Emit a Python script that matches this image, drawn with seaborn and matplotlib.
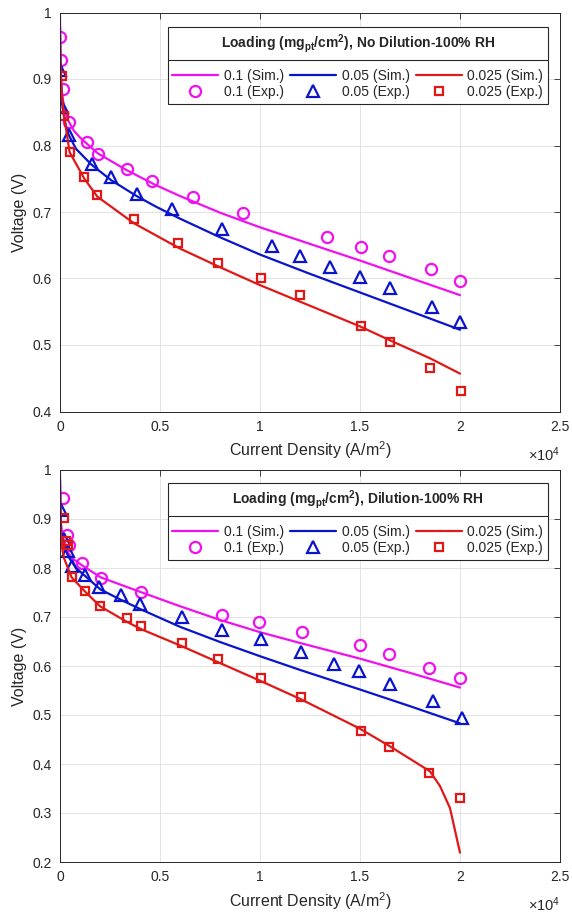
import matplotlib
matplotlib.use("Agg")
import matplotlib.pyplot as plt
from matplotlib.lines import Line2D
from matplotlib.ticker import FuncFormatter, MultipleLocator
import seaborn as sns
import pandas as pd

# ---- data (current density A/m^2, voltage V) ----
# top panel: no dilution
top_sim_01_x = [0, 20, 50, 100, 200, 400, 700, 1000, 1330, 1900, 3330, 4750, 6000, 8000, 10000, 12500, 15000, 17500, 20000]
top_sim_01_v = [0.995, 0.94, 0.905, 0.88, 0.857, 0.838, 0.822, 0.812, 0.803, 0.788, 0.763, 0.741, 0.724, 0.699, 0.677, 0.652, 0.627, 0.601, 0.575]
top_sim_005_x = [0, 10, 30, 80, 150, 300, 450, 800, 1580, 2550, 3830, 4800, 6000, 8000, 10000, 12500, 15000, 17500, 20000]
top_sim_005_v = [0.977, 0.94, 0.905, 0.87, 0.852, 0.828, 0.815, 0.795, 0.771, 0.748, 0.724, 0.708, 0.690, 0.662, 0.636, 0.607, 0.579, 0.551, 0.523]
top_sim_0025_x = [0, 20, 80, 200, 480, 1220, 1870, 3700, 6000, 8000, 10000, 12500, 15000, 16500, 18500, 20000]
top_sim_0025_v = [0.965, 0.92, 0.88, 0.845, 0.79, 0.75, 0.723, 0.683, 0.645, 0.617, 0.59, 0.559, 0.528, 0.507, 0.480, 0.457]

top_exp_01_x = [20, 50, 170, 450, 1330, 1880, 3330, 4620, 6630, 9170, 13330, 15030, 16470, 18550, 20020]
top_exp_01_v = [0.963, 0.928, 0.885, 0.835, 0.806, 0.787, 0.765, 0.747, 0.723, 0.698, 0.663, 0.647, 0.634, 0.614, 0.596]
top_exp_005_x = [20, 120, 450, 1580, 2550, 3830, 5580, 8080, 10580, 12000, 13500, 15000, 16500, 18580, 20020]
top_exp_005_v = [0.914, 0.858, 0.816, 0.772, 0.752, 0.727, 0.704, 0.675, 0.649, 0.634, 0.618, 0.602, 0.586, 0.557, 0.534]
top_exp_0025_x = [80, 200, 480, 1220, 1870, 3700, 5920, 7920, 10030, 12000, 15030, 16520, 18500, 20070]
top_exp_0025_v = [0.904, 0.844, 0.790, 0.752, 0.725, 0.689, 0.654, 0.624, 0.601, 0.575, 0.528, 0.505, 0.465, 0.431]

# bottom panel: dilution
bot_sim_01_x = [0, 20, 50, 130, 330, 600, 1120, 2030, 4030, 6000, 8000, 10000, 12000, 15000, 17500, 20000]
bot_sim_01_v = [0.995, 0.93, 0.89, 0.86, 0.835, 0.82, 0.805, 0.781, 0.751, 0.722, 0.694, 0.669, 0.647, 0.615, 0.586, 0.556]
bot_sim_005_x = [0, 20, 60, 200, 420, 800, 1330, 2030, 3050, 4020, 6000, 8000, 10000, 12000, 15000, 17500, 20000]
bot_sim_005_v = [0.98, 0.91, 0.87, 0.845, 0.823, 0.80, 0.781, 0.756, 0.735, 0.716, 0.680, 0.649, 0.620, 0.592, 0.552, 0.518, 0.483]
bot_sim_0025_x = [0, 20, 60, 200, 580, 1250, 2000, 3350, 4070, 6000, 8000, 10000, 12000, 15000, 16500, 18500, 19000, 19500, 20000]
bot_sim_0025_v = [0.96, 0.89, 0.85, 0.82, 0.781, 0.752, 0.722, 0.69, 0.675, 0.642, 0.606, 0.570, 0.533, 0.472, 0.436, 0.385, 0.355, 0.31, 0.219]

bot_exp_01_x = [130, 330, 470, 1120, 2030, 4030, 8080, 9950, 12080, 15000, 16450, 18450, 20000]
bot_exp_01_v = [0.943, 0.868, 0.846, 0.811, 0.780, 0.751, 0.705, 0.690, 0.669, 0.642, 0.625, 0.596, 0.576]
bot_exp_005_x = [30, 200, 420, 580, 1250, 1950, 3050, 4020, 6080, 8080, 10030, 12030, 13720, 14970, 16500, 18630, 20080]
bot_exp_005_v = [0.919, 0.860, 0.834, 0.805, 0.786, 0.762, 0.745, 0.726, 0.700, 0.673, 0.655, 0.628, 0.604, 0.589, 0.564, 0.528, 0.493]
bot_exp_0025_x = [200, 300, 420, 580, 1250, 1990, 3350, 4070, 6080, 7880, 10030, 12030, 15030, 16450, 18450, 20000]
bot_exp_0025_v = [0.902, 0.855, 0.846, 0.781, 0.754, 0.722, 0.697, 0.682, 0.647, 0.615, 0.576, 0.537, 0.468, 0.434, 0.381, 0.331]

loadings = ["0.1", "0.05", "0.025"]
colors = ["#F010F0", "#0A14CC", "#E01818"]
markers = ["o", "^", "s"]
msizes = [8, 8.5, 6]

sns.set_theme(style="white")
plt.rcParams["font.family"] = ["Liberation Sans", "DejaVu Sans"]
plt.rcParams["mathtext.fontset"] = "custom"
plt.rcParams["mathtext.rm"] = "Liberation Sans"
plt.rcParams["mathtext.it"] = "Liberation Sans:italic"
plt.rcParams["mathtext.bf"] = "Liberation Sans:bold"

fig = plt.figure(figsize=(5.72, 9.18), dpi=100)
W, H = 572, 918


def make_axes(top, bottom):
    return fig.add_axes([60 / W, 1 - bottom / H, 500 / W, (bottom - top) / H])


def draw_panel(ax, sims, exps, ylo, title, leg_top):
    for i in range(3):
        sx, sv = sims[i]
        ex, ev = exps[i]
        df_s = pd.DataFrame({"j": sx, "v": sv})
        df_e = pd.DataFrame({"j": ex, "v": ev})
        sns.lineplot(data=df_s, x="j", y="v", ax=ax, color=colors[i], linewidth=1.6,
                     errorbar=None, label=loadings[i] + " (Sim.)")
        sns.lineplot(data=df_e, x="j", y="v", ax=ax, color=colors[i], linestyle="none",
                     marker=markers[i], markersize=msizes[i], markerfacecolor="none",
                     markeredgecolor=colors[i], markeredgewidth=1.6,
                     errorbar=None, label=loadings[i] + " (Exp.)")

    ax.set_xlim(0, 25000)
    ax.set_ylim(ylo, 1.0)
    ax.xaxis.set_major_locator(MultipleLocator(5000))
    ax.yaxis.set_major_locator(MultipleLocator(0.1))
    ax.xaxis.set_major_formatter(FuncFormatter(lambda v, p: f"{v / 1e4:g}"))
    ax.yaxis.set_major_formatter(FuncFormatter(lambda v, p: f"{v:.1f}".rstrip("0").rstrip(".") if v < 0.999 else "1"))
    ax.grid(True, color="#E3E3E3", linewidth=0.7)
    ax.set_axisbelow(True)
    for s in ax.spines.values():
        s.set_color("#262626")
        s.set_linewidth(0.7)
    ax.tick_params(direction="in", length=4, width=0.6, color="#262626",
                   labelsize=10, labelcolor="#262626", top=True, right=True, pad=6)
    ax.set_xlabel("Current Density (A/m$^{2}$)", fontsize=11.5, color="#262626", labelpad=4)
    ax.set_ylabel("Voltage (V)", fontsize=11.5, color="#262626", labelpad=4)
    ax.text(1.0, -0.108, r"$\times10^{4}$", transform=ax.transAxes, ha="right", va="center",
            fontsize=10.5, color="#262626")

    leg = ax.legend(ncol=3, loc="upper right", bbox_to_anchor=(0.976, leg_top),
                    borderaxespad=0, fontsize=10, title=title,
                    title_fontproperties={"weight": "bold", "size": 10},
                    frameon=True, fancybox=False, edgecolor="#262626", framealpha=1,
                    handlelength=3.3, handletextpad=0.4, columnspacing=0.45,
                    labelspacing=0.15, borderpad=0.35)
    leg.get_frame().set_linewidth(0.8)
    leg._legend_box.sep = 10
    return leg


ax1 = make_axes(12.5, 411.5)
ax2 = make_axes(470, 862)

leg1 = draw_panel(ax1,
                  [(top_sim_01_x, top_sim_01_v), (top_sim_005_x, top_sim_005_v), (top_sim_0025_x, top_sim_0025_v)],
                  [(top_exp_01_x, top_exp_01_v), (top_exp_005_x, top_exp_005_v), (top_exp_0025_x, top_exp_0025_v)],
                  0.4, r"Loading (mg$_{\mathbf{pt}}$/cm$^{\mathbf{2}}$), No Dilution-100% RH", 0.9637)
leg2 = draw_panel(ax2,
                  [(bot_sim_01_x, bot_sim_01_v), (bot_sim_005_x, bot_sim_005_v), (bot_sim_0025_x, bot_sim_0025_v)],
                  [(bot_exp_01_x, bot_exp_01_v), (bot_exp_005_x, bot_exp_005_v), (bot_exp_0025_x, bot_exp_0025_v)],
                  0.2, r"Loading (mg$_{\mathbf{pt}}$/cm$^{\mathbf{2}}$), Dilution-100% RH", 0.966)

# divider line between legend title and entries
fig.canvas.draw()
inv = fig.transFigure.inverted()
for leg in (leg1, leg2):
    fb = leg.get_frame().get_window_extent()
    tb = leg.get_title().get_window_extent()
    y = tb.y0 - 5
    (x0, yy), (x1, _) = inv.transform([(fb.x0, y), (fb.x1, y)])
    fig.add_artist(Line2D([x0, x1], [yy, yy], color="#262626", linewidth=0.8))

fig.savefig("out.png", dpi=100)
